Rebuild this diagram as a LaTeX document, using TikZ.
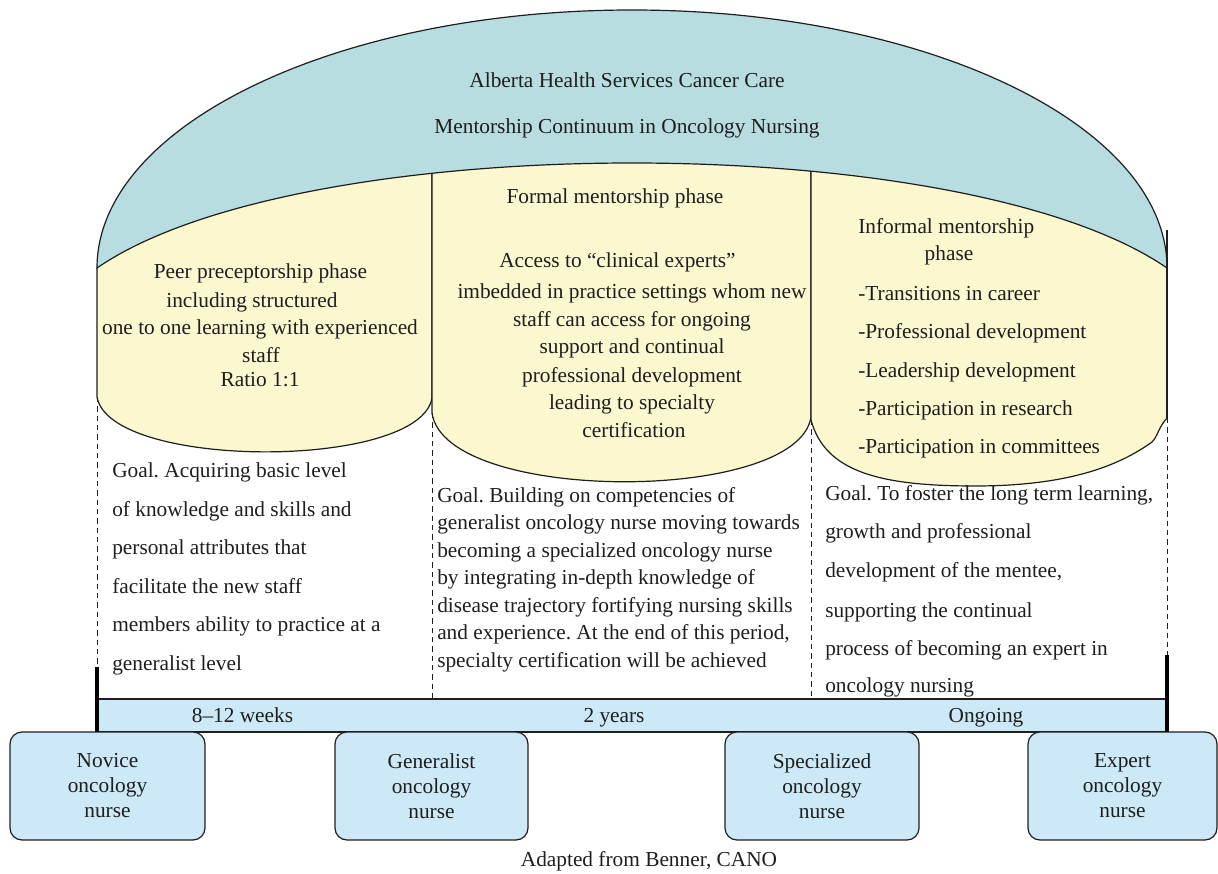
\documentclass[tikz,border=0pt]{standalone}
\usepackage{fontspec}
\setmainfont{Liberation Serif}
\definecolor{domeblue}{RGB}{184,221,225}
\definecolor{panelyellow}{RGB}{251,247,206}
\definecolor{boxblue}{RGB}{205,233,247}
\definecolor{ink}{RGB}{30,30,30}
\frenchspacing
\begin{document}
\begin{tikzpicture}[x=0.75pt,y=-0.75pt,
  every node/.style={inner sep=0pt, text=ink},
  txt/.style={anchor=base, font=\fontsize{16}{19}\selectfont},
  txtl/.style={anchor=base west, font=\fontsize{16}{19}\selectfont},
  outline/.style={draw=ink, line width=0.9pt},
  panel/.style={outline, fill=panelyellow},
  guide/.style={draw=ink, line width=0.7pt, dash pattern=on 4pt off 3pt},
  thickbar/.style={draw=black, line width=3.6pt},
  nbox/.style={outline, fill=boxblue, rounded corners=9pt, align=center,
    minimum height=81pt, font=\fontsize{16}{18.75}\selectfont}
]
\useasboundingbox (0,0) rectangle (1218,874);

% dome
\begin{scope}
  \clip (0,0) rectangle (1218,268);
  \filldraw[outline, fill=domeblue] (632,268) ellipse [x radius=535, y radius=258];
\end{scope}

% yellow panels, clipped below inner curve
\begin{scope}
  \clip (88,268) -- (97,268) .. controls (300,128) and (964,128) .. (1167,268)
        -- (1176,268) -- (1176,530) -- (88,530) -- cycle;
  \filldraw[panel] (97,140) -- (97,397) .. controls (110,470) and (420,470) .. (432,398) -- (432,140) -- cycle;
  \filldraw[panel] (432,140) -- (432,413) .. controls (445,504) and (798,504) .. (811,417) -- (811,140) -- cycle;
  \filldraw[panel] (811,140) -- (811,420) .. controls (825,472) and (880,486) .. (975,486)
        .. controls (1070,486) and (1120,465) .. (1152,442) .. controls (1158,436) and (1158,428) .. (1167,418)
        -- (1167,140) -- cycle;
\end{scope}
\draw[outline] (97,268) .. controls (300,128) and (964,128) .. (1167,268);
\draw[outline] (1167,230) -- (1167,418);

% guide lines
\draw[guide] (97,397) -- (97,667);
\draw[guide] (432,413) -- (432,699);
\draw[guide] (811,420) -- (811,699);
\draw[guide] (1167,418) -- (1167,655);

% timeline bar
\draw[outline, fill=boxblue] (97,699) rectangle (1167,732);
\draw[thickbar] (97,667) -- (97,733);
\draw[thickbar] (1167,655) -- (1167,733);

% title
\node[txt] (t1) at (627,88) {Alberta Health Services Cancer Care};
\node[txt] (t2) at (627,133) {Mentorship Continuum in Oncology Nursing};

% left panel text
\node[txt] (p1) at (260.5,278) {Peer preceptorship phase};
\node[txt] (p2) at (252,307) {including structured};
\node[txt] (p3) at (260,334) {one to one learning with experienced};
\node[txt] (p4) at (261,362) {staff};
\node[txt] (p5) at (260,386) {Ratio 1:1};

% middle panel text
\node[txt] (f1) at (615,203) {Formal mentorship phase};
\node[txt] (f2) at (617.5,267) {Access to “clinical experts”};
\node[txt] (f3) at (632,298) {imbedded in practice settings whom new};
\node[txt] (f4) at (632,326) {staff can access for ongoing};
\node[txt] (f5) at (632,353) {support and continual};
\node[txt] (f6) at (632,382) {professional development};
\node[txt] (f7) at (632,409) {leading to specialty};
\node[txt] (f8) at (634,437) {certification};

% right panel text
\node[txtl] (i1) at (858,233) {Informal mentorship};
\node[txt] (i2) at (949,260) {phase};
\foreach \t/\y [count=\k] in {{-Transitions in career}/300, {-Professional development}/338,
    {-Leadership development}/377, {-Participation in research}/415, {-Participation in committees}/453}
  \node[txtl] (li\k) at (858,\y) {\t};

% goals
\foreach \t/\y [count=\k] in {{Goal. Acquiring basic level}/477, {of knowledge and skills and}/516,
    {personal attributes that}/554, {facilitate the new staff}/593,
    {members ability to practice at a}/631, {generalist level}/670}
  \node[txtl] (ga\k) at (112,\y) {\t};
\foreach \t/\y [count=\k] in {{Goal. Building on competencies of}/502,
    {generalist oncology nurse moving towards}/529.5,
    {becoming a specialized oncology nurse}/557,
    {by integrating in-depth knowledge of}/584.5,
    {disease trajectory fortifying nursing skills}/612,
    {and experience. At the end of this period,}/639.5,
    {specialty certification will be achieved}/667}
  \node[txtl] (gb\k) at (437,\y) {\t};
\foreach \t/\y [count=\k] in {{Goal. To foster the long term learning,}/500,
    {growth and professional}/538, {development of the mentee,}/577,
    {supporting the continual}/617, {process of becoming an expert in}/655,
    {oncology nursing}/692}
  \node[txtl] (gc\k) at (825,\y) {\t};

% bar labels
\node[txt] (w1) at (242.5,722) {8–12 weeks};
\node[txt] (w2) at (614,722) {2 years};
\node[txt] (w3) at (986,722) {Ongoing};

% stage boxes
\node[nbox, minimum width=146.25pt] (novice) at (107.5,786) {Novice\\oncology\\nurse};
\node[nbox, minimum width=144.75pt] (generalist) at (431.5,786) {Generalist\\oncology\\nurse};
\node[nbox, minimum width=145.5pt] (specialized) at (822,786) {Specialized\\oncology\\nurse};
\node[nbox, minimum width=141.75pt] (expert) at (1122.5,786) {Expert\\oncology\\nurse};

% caption
\node[txt] (cap) at (649,866) {Adapted from Benner, CANO};
\end{tikzpicture}
\end{document}
